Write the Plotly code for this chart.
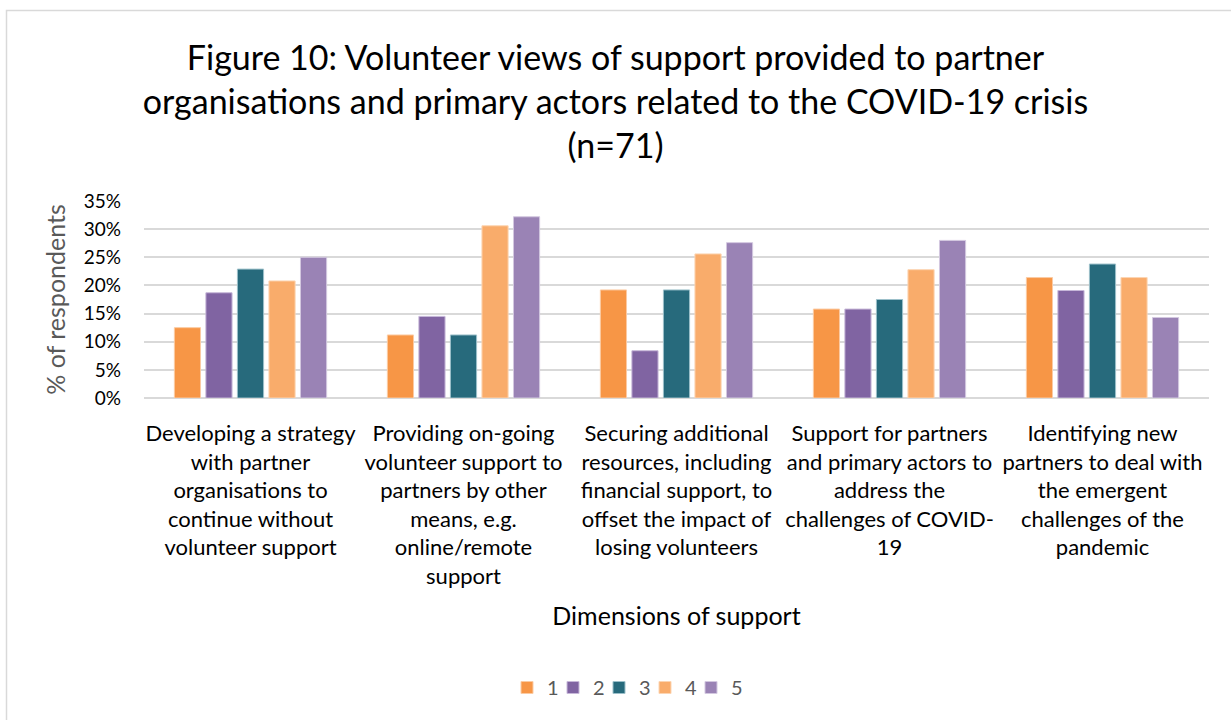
import plotly.graph_objects as go

# Survey dimensions (x-axis categories), wrapped onto several lines
categories = [
    "Developing a strategy<br>with partner<br>organisations to<br>continue without<br>volunteer support",
    "Providing on-going<br>volunteer support to<br>partners by other<br>means, e.g.<br>online/remote<br>support",
    "Securing additional<br>resources, including<br>financial support, to<br>offset the impact of<br>losing volunteers",
    "Support for partners<br>and primary actors to<br>address the<br>challenges of COVID-<br>19",
    "Identifying new<br>partners to deal with<br>the emergent<br>challenges of the<br>pandemic",
]

# Share of respondents per rating (1-5), in percent
rating_1 = [12.5, 11.2, 19.2, 15.8, 21.4]
rating_2 = [18.7, 14.5, 8.4, 15.8, 19.1]
rating_3 = [22.9, 11.2, 19.2, 17.5, 23.8]
rating_4 = [20.8, 30.6, 25.6, 22.8, 21.4]
rating_5 = [25.0, 32.2, 27.6, 28.0, 14.3]

series_names = ["1", "2", "3", "4", "5"]
series_values = [rating_1, rating_2, rating_3, rating_4, rating_5]
series_colors = ["#F79646", "#8064A2", "#276A7C", "#F9AC6B", "#9A83B5"]
outline_colors = ["#FBCBA3", "#C7B8D9", "#9CC0CA", "#FCD5B3", "#D3C8E0"]

y_ticks = [0, 5, 10, 15, 20, 25, 30, 35]
y_tick_labels = [f"{v}%" for v in y_ticks]

FONT = "Lato, 'Open Sans', sans-serif"

fig = go.Figure()
for name, vals, col, oc in zip(series_names, series_values, series_colors, outline_colors):
    fig.add_trace(go.Bar(
        name=name,
        x=categories,
        y=vals,
        marker=dict(color=col, line=dict(color=oc, width=1)),
        hoverinfo="skip",
    ))

# blank legend slot so the compact legend box is wide enough for the last label
fig.add_trace(go.Scatter(
    x=[None], y=[None], name=" ", mode="markers",
    marker=dict(color="rgba(0,0,0,0)"), hoverinfo="skip",
))

W, H = 1231, 720
L, R, T, B = 144, 22, 201, 322
pw, ph = W - L - R, H - T - B


def px_x(p):
    return (p - L) / pw


def px_y(p):
    return (H - B - p) / ph


fig.update_layout(
    width=W,
    height=H,
    margin=dict(l=L, r=R, t=T, b=B, pad=0),
    paper_bgcolor="white",
    plot_bgcolor="white",
    barmode="group",
    bargap=0.26,
    bargroupgap=0.17,
    font=dict(family=FONT, color="#000000"),
    title=dict(
        text="Figure 10: Volunteer views of support provided to partner<br>"
             "organisations and primary actors related to the COVID-19 crisis<br>(n=71)",
        x=0.5,
        xanchor="center",
        y=1 - 70 / H,
        yanchor="top",
        font=dict(family=FONT, size=34, color="#000000"),
    ),
    xaxis=dict(
        tickfont=dict(family=FONT, size=22, color="#000000"),
        ticks="",
        showline=False,
        showgrid=False,
        ticklabelstandoff=20,
        title=dict(text="Dimensions of support",
                   font=dict(family=FONT, size=25, color="#000000"),
                   standoff=19),
    ),
    yaxis=dict(
        range=[0, 35],
        tickvals=y_ticks,
        ticktext=y_tick_labels,
        tickfont=dict(family=FONT, size=19, color="#000000"),
        ticks="",
        gridcolor="#D9D9D9",
        gridwidth=1.5,
        zeroline=True,
        zerolinecolor="#D9D9D9",
        zerolinewidth=1.5,
        showline=False,
        ticklabelstandoff=22,
        title=dict(text="% of respondents",
                   font=dict(family=FONT, size=25, color="#595959"),
                   standoff=10),
    ),
    legend=dict(
        orientation="h",
        x=px_x(507),
        xanchor="left",
        y=px_y(668),
        yanchor="top",
        font=dict(family=FONT, size=20, color="#595959"),
        entrywidth=1,
        entrywidthmode="pixels",
        traceorder="normal",
    ),
    shapes=[
        dict(
            type="rect",
            xref="paper", yref="paper",
            x0=px_x(6.5), x1=px_x(1250),
            y0=px_y(740), y1=px_y(10.5),
            line=dict(color="#D9D9D9", width=1.5),
            fillcolor="rgba(0,0,0,0)",
            layer="below",
        )
    ],
)

fig.write_html("out.html")
